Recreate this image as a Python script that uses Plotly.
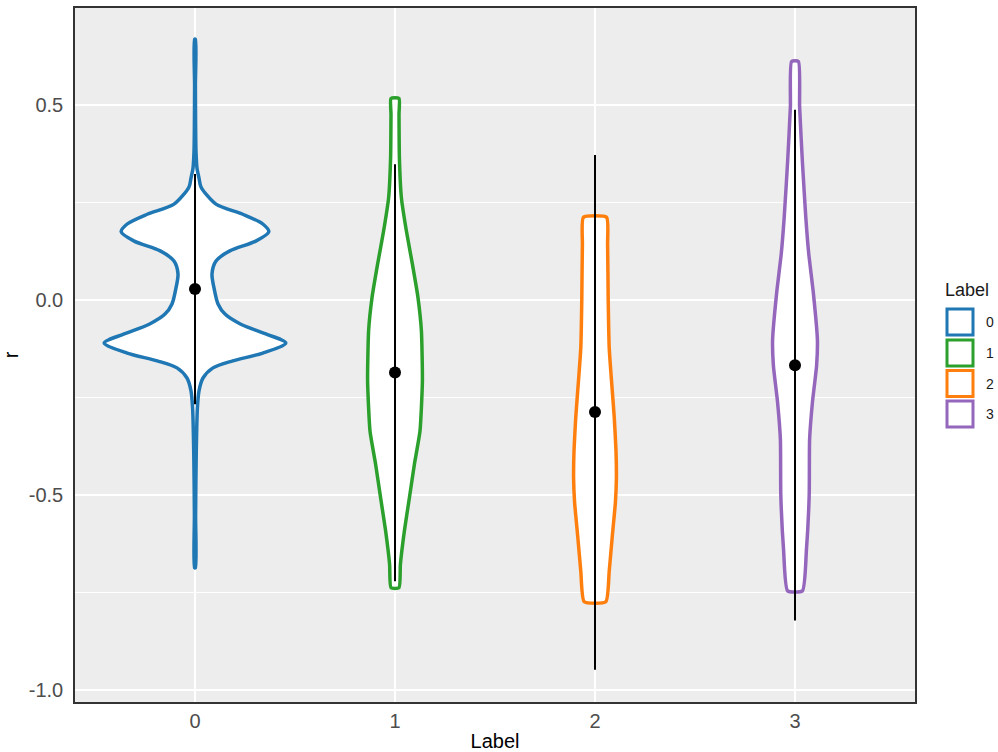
import plotly.graph_objects as go

# ---------------- data ----------------
group_labels = ["0", "1", "2", "3"]
group_pos = [0, 1, 2, 3]
group_colors = ["#1F77B4", "#2CA02C", "#FF7F0E", "#9467BD"]

# violin outlines: r levels and density half-widths (in category units)
r_levels_0 = [0.669, 0.55, 0.45, 0.38, 0.338, 0.313, 0.29, 0.246, 0.22, 0.195, 0.175, 0.151,
              0.126, 0.10, 0.067, 0.031, -0.01, -0.036, -0.062, -0.087, -0.11, -0.136,
              -0.156, -0.174, -0.20, -0.233, -0.277, -0.40, -0.55, -0.687]
halfw_0 = [0.002, 0.002, 0.003, 0.005, 0.010, 0.020, 0.030, 0.105, 0.239, 0.339, 0.369, 0.304,
           0.174, 0.105, 0.085, 0.095, 0.115, 0.150, 0.229, 0.354, 0.454, 0.339,
           0.189, 0.090, 0.040, 0.020, 0.012, 0.006, 0.003, 0.002]

r_levels_1 = [0.517, 0.476, 0.365, 0.262, 0.177, 0.092, 0.006, -0.079, -0.208, -0.336,
              -0.421, -0.507, -0.592, -0.678, -0.738]
halfw_1 = [0.020, 0.020, 0.022, 0.032, 0.057, 0.087, 0.115, 0.132, 0.137, 0.125,
           0.097, 0.072, 0.047, 0.027, 0.020]

r_levels_2 = [0.212, 0.143, 0.002, -0.122, -0.210, -0.299, -0.387, -0.458, -0.519,
              -0.608, -0.696, -0.774]
halfw_2 = [0.058, 0.063, 0.066, 0.071, 0.083, 0.096, 0.105, 0.107, 0.102,
           0.086, 0.071, 0.054]

r_levels_3 = [0.612, 0.496, 0.354, 0.212, 0.117, 0.022, -0.102, -0.168, -0.263,
              -0.358, -0.50, -0.642, -0.746]
halfw_3 = [0.017, 0.023, 0.037, 0.054, 0.069, 0.091, 0.112, 0.108, 0.087,
           0.073, 0.071, 0.057, 0.037]

# summary: mean with lower/upper (mean +/- sd)
mean_r = [0.028, -0.186, -0.287, -0.167]
lower_r = [-0.267, -0.721, -0.948, -0.822]
upper_r = [0.323, 0.348, 0.372, 0.488]

y_tickvals = [-1.0, -0.5, 0.0, 0.5]
y_ticktext = ["-1.0", "-0.5", "0.0", "0.5"]

# ---------------- figure ----------------
fig = go.Figure()

profiles = [(r_levels_0, halfw_0, 0.8), (r_levels_1, halfw_1, 0.5),
            (r_levels_2, halfw_2, 0.5), (r_levels_3, halfw_3, 0.5)]

for pos, (lv, hw, sm), col, lab in zip(group_pos, profiles, group_colors, group_labels):
    xs = [pos - w for w in hw] + [pos + w for w in reversed(hw)] + [pos - hw[0]]
    ys = list(lv) + list(reversed(lv)) + [lv[0]]
    fig.add_trace(go.Scatter(
        x=xs, y=ys, mode="lines", fill="toself", fillcolor="white",
        line=dict(color=col, width=3.5, shape="spline", smoothing=sm),
        name=lab, showlegend=False, hoverinfo="skip"))

fig.add_trace(go.Scatter(
    x=group_pos, y=mean_r, mode="markers",
    marker=dict(color="black", size=12),
    error_y=dict(type="data", symmetric=False,
                 array=[u - m for u, m in zip(upper_r, mean_r)],
                 arrayminus=[m - l for m, l in zip(mean_r, lower_r)],
                 width=0, thickness=2, color="black"),
    showlegend=False, hoverinfo="skip"))

# ---------------- manual ggplot-like legend ----------------
L, R, T, B = 75, 915, 8, 702
W, H = 998, 752
def px_x(x):
    return (x - L) / (R - L)
def px_y(y):
    return (B - y) / (B - T)

shapes = []
annotations = []
box_tops = [308, 339, 369.5, 400]
for top, col, lab in zip(box_tops, group_colors, group_labels):
    shapes.append(dict(type="rect", xref="paper", yref="paper",
                       x0=px_x(947), x1=px_x(973), y0=px_y(top + 1), y1=px_y(top + 27),
                       line=dict(color=col, width=3), fillcolor="white"))
    annotations.append(dict(xref="paper", yref="paper", x=px_x(984), y=px_y(top + 14),
                            text=lab, showarrow=False, xanchor="left", yanchor="middle",
                            font=dict(size=14, color="#1A1A1A")))
annotations.append(dict(xref="paper", yref="paper", x=px_x(943), y=px_y(290),
                        text="Label", showarrow=False, xanchor="left", yanchor="middle",
                        font=dict(size=18, color="#1A1A1A")))

fig.update_layout(
    width=W, height=H,
    margin=dict(l=L, r=W - R, t=T, b=H - B),
    paper_bgcolor="white", plot_bgcolor="#EDEDED",
    font=dict(family="Liberation Sans, Arial, sans-serif"),
    showlegend=False,
    shapes=shapes, annotations=annotations,
    xaxis=dict(range=[-0.6, 3.6], tickvals=group_pos, ticktext=group_labels,
               automargin=False,
               showgrid=True, gridcolor="white", gridwidth=1.5, zeroline=False,
               showline=True, mirror=True, linecolor="#333333", linewidth=1.5,
               ticks="", tickfont=dict(size=20, color="#4D4D4D"),
               title=dict(text="Label", font=dict(size=20, color="black"), standoff=10)),
    yaxis=dict(range=[-1.031, 0.749], tickvals=y_tickvals, ticktext=y_ticktext,
               automargin=False,
               showgrid=True, gridcolor="white", gridwidth=1.5, zeroline=False,
               showline=True, mirror=True, linecolor="#333333", linewidth=1.5,
               ticks="", ticklabelstandoff=6, tickfont=dict(size=20, color="#4D4D4D"),
               minor=dict(tickvals=[-0.75, -0.25, 0.25], showgrid=True,
                          gridcolor="white", gridwidth=1),
               title=dict(text="r", font=dict(size=20, color="black"), standoff=12)),
)

fig.write_html("out.html", config={"displayModeBar": False},
               post_script="document.body.style.margin='0';")
